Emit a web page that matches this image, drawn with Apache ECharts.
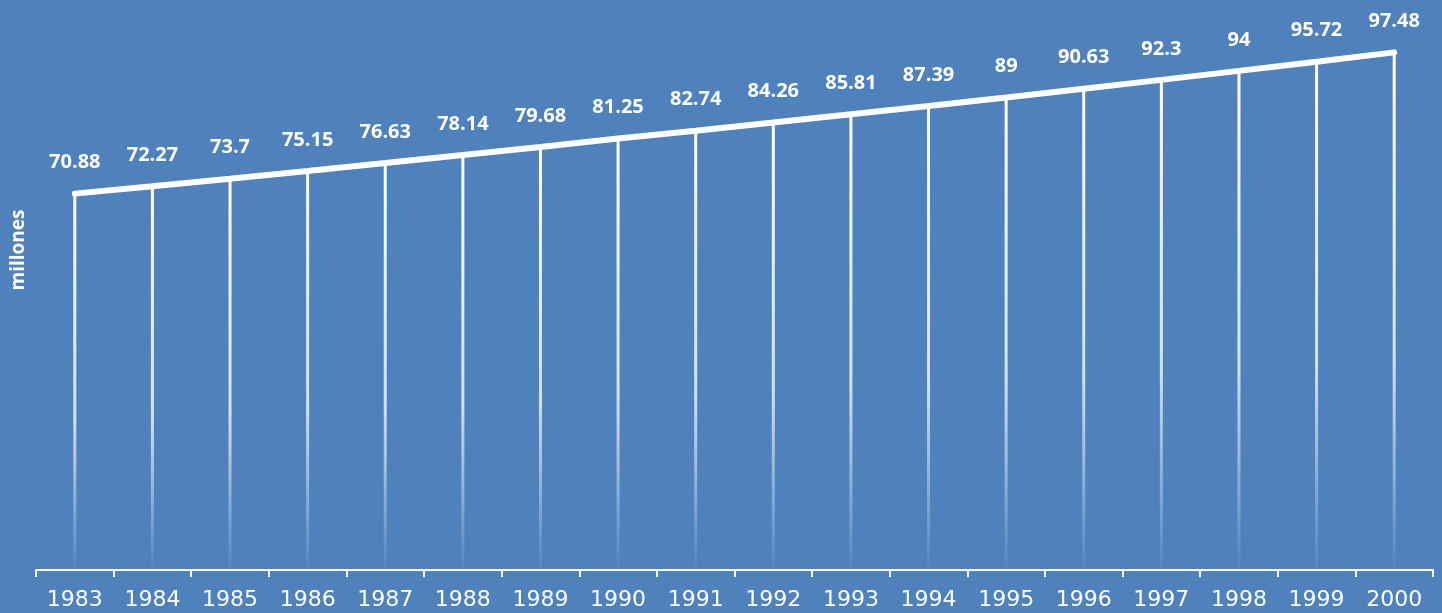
<!DOCTYPE html>
<html>
<head>
<meta charset="utf-8">
<script src="https://cdn.jsdelivr.net/npm/echarts@6/dist/echarts.min.js"></script>
<style>
  html, body { margin: 0; padding: 0; background: #4f81bd; }
  #chart { width: 1442px; height: 613px; }
</style>
</head>
<body>
<div id="chart"></div>
<script>
const years = ['1983', '1984', '1985', '1986', '1987', '1988', '1989', '1990', '1991',
  '1992', '1993', '1994', '1995', '1996', '1997', '1998', '1999', '2000']
const population = [70.88, 72.27, 73.7, 75.15, 76.63, 78.14, 79.68, 81.25, 82.74,
  84.26, 85.81, 87.39, 89, 90.63, 92.3, 94, 95.72, 97.48]
const yAxisName = 'millones'

const chart = echarts.init(document.getElementById('chart'))

chart.setOption({
  backgroundColor: '#4f81bd',
  animation: false,
  grid: { left: 36, right: 9, top: 39, bottom: 43 },
  graphic: [
    {
      type: 'text',
      x: 19,
      y: 250,
      rotation: Math.PI / 2,
      style: {
        text: yAxisName,
        fill: '#fff',
        font: 'bold 19px "Open Sans"',
        align: 'center',
        verticalAlign: 'middle',
      },
    },
  ],
  xAxis: {
    type: 'category',
    data: years,
    boundaryGap: true,
    axisLine: { lineStyle: { color: '#fff', width: 2 } },
    axisTick: { show: true, length: 7, lineStyle: { color: '#fff', width: 2 } },
    axisLabel: {
      color: '#fff',
      fontFamily: 'DejaVu Sans',
      fontSize: 22,
      margin: 19,
    },
  },
  yAxis: {
    type: 'value',
    min: 0,
    max: 100,
    show: false,
  },
  series: [
    {
      // drop lines
      type: 'bar',
      data: population,
      barWidth: 3,
      silent: true,
      itemStyle: {
        color: new echarts.graphic.LinearGradient(0, 0, 0, 1, [
          { offset: 0, color: 'rgba(255,255,255,1)' },
          { offset: 0.6, color: 'rgba(255,255,255,0.75)' },
          { offset: 1, color: 'rgba(255,255,255,0.03)' },
        ]),
      },
    },
    {
      type: 'line',
      data: population,
      showSymbol: true,
      symbol: 'circle',
      symbolSize: 2,
      z: 5,
      lineStyle: { color: '#fff', width: 6, cap: 'round' },
      itemStyle: { color: '#fff' },
      label: {
        show: true,
        position: 'top',
        distance: 20,
        color: '#fff',
        fontFamily: 'Open Sans',
        fontWeight: 'bold',
        fontSize: 20,
      },
    },
  ],
})
</script>
</body>
</html>
